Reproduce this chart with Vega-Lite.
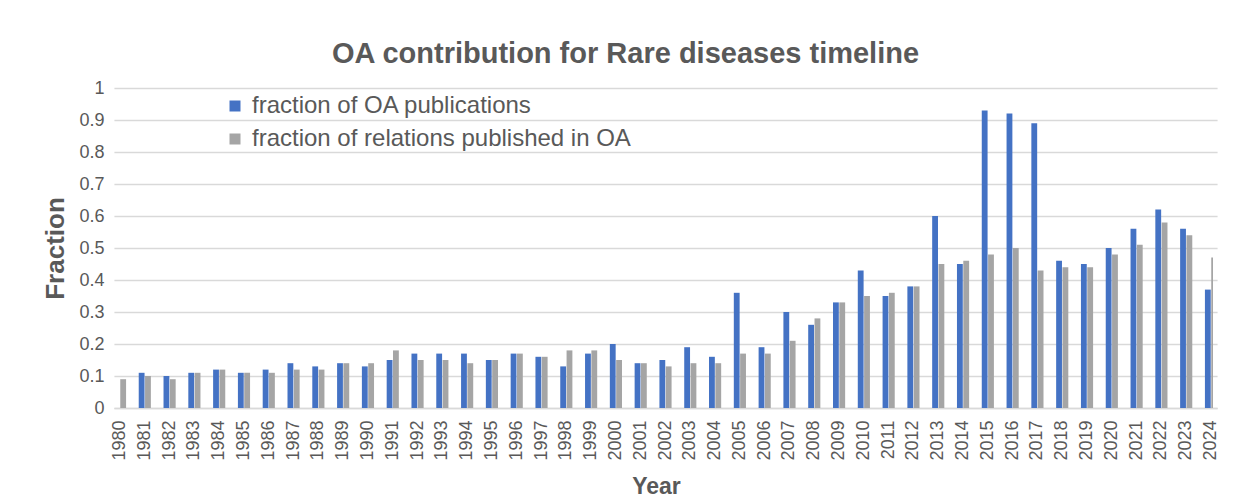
{
  "$schema": "https://vega.github.io/schema/vega-lite/v6.json",
  "width": 1093,
  "height": 320,
  "autosize": {"type": "none"},
  "padding": {"left": 120, "top": 88, "right": 25, "bottom": 91},
  "background": "white",
  "config": {
    "font": "Liberation Sans",
    "view": {"stroke": null},
    "axis": {"labelColor": "#595959", "titleColor": "#595959", "labelFont": "Liberation Sans", "titleFont": "Liberation Sans"}
  },
  "title": {
    "text": "OA contribution for Rare diseases timeline",
    "fontSize": 29,
    "fontWeight": "bold",
    "color": "#595959",
    "anchor": "middle",
    "dx": -41,
    "offset": 10
  },
  "data": {
    "values": [
      {"year": "1980", "series": "fraction of OA publications", "value": 0.10},
      {"year": "1980", "series": "fraction of relations published in OA", "value": 0.09},
      {"year": "1981", "series": "fraction of OA publications", "value": 0.11},
      {"year": "1981", "series": "fraction of relations published in OA", "value": 0.10},
      {"year": "1982", "series": "fraction of OA publications", "value": 0.10},
      {"year": "1982", "series": "fraction of relations published in OA", "value": 0.09},
      {"year": "1983", "series": "fraction of OA publications", "value": 0.11},
      {"year": "1983", "series": "fraction of relations published in OA", "value": 0.11},
      {"year": "1984", "series": "fraction of OA publications", "value": 0.12},
      {"year": "1984", "series": "fraction of relations published in OA", "value": 0.12},
      {"year": "1985", "series": "fraction of OA publications", "value": 0.11},
      {"year": "1985", "series": "fraction of relations published in OA", "value": 0.11},
      {"year": "1986", "series": "fraction of OA publications", "value": 0.12},
      {"year": "1986", "series": "fraction of relations published in OA", "value": 0.11},
      {"year": "1987", "series": "fraction of OA publications", "value": 0.14},
      {"year": "1987", "series": "fraction of relations published in OA", "value": 0.12},
      {"year": "1988", "series": "fraction of OA publications", "value": 0.13},
      {"year": "1988", "series": "fraction of relations published in OA", "value": 0.12},
      {"year": "1989", "series": "fraction of OA publications", "value": 0.14},
      {"year": "1989", "series": "fraction of relations published in OA", "value": 0.14},
      {"year": "1990", "series": "fraction of OA publications", "value": 0.13},
      {"year": "1990", "series": "fraction of relations published in OA", "value": 0.14},
      {"year": "1991", "series": "fraction of OA publications", "value": 0.15},
      {"year": "1991", "series": "fraction of relations published in OA", "value": 0.18},
      {"year": "1992", "series": "fraction of OA publications", "value": 0.17},
      {"year": "1992", "series": "fraction of relations published in OA", "value": 0.15},
      {"year": "1993", "series": "fraction of OA publications", "value": 0.17},
      {"year": "1993", "series": "fraction of relations published in OA", "value": 0.15},
      {"year": "1994", "series": "fraction of OA publications", "value": 0.17},
      {"year": "1994", "series": "fraction of relations published in OA", "value": 0.14},
      {"year": "1995", "series": "fraction of OA publications", "value": 0.15},
      {"year": "1995", "series": "fraction of relations published in OA", "value": 0.15},
      {"year": "1996", "series": "fraction of OA publications", "value": 0.17},
      {"year": "1996", "series": "fraction of relations published in OA", "value": 0.17},
      {"year": "1997", "series": "fraction of OA publications", "value": 0.16},
      {"year": "1997", "series": "fraction of relations published in OA", "value": 0.16},
      {"year": "1998", "series": "fraction of OA publications", "value": 0.13},
      {"year": "1998", "series": "fraction of relations published in OA", "value": 0.18},
      {"year": "1999", "series": "fraction of OA publications", "value": 0.17},
      {"year": "1999", "series": "fraction of relations published in OA", "value": 0.18},
      {"year": "2000", "series": "fraction of OA publications", "value": 0.20},
      {"year": "2000", "series": "fraction of relations published in OA", "value": 0.15},
      {"year": "2001", "series": "fraction of OA publications", "value": 0.14},
      {"year": "2001", "series": "fraction of relations published in OA", "value": 0.14},
      {"year": "2002", "series": "fraction of OA publications", "value": 0.15},
      {"year": "2002", "series": "fraction of relations published in OA", "value": 0.13},
      {"year": "2003", "series": "fraction of OA publications", "value": 0.19},
      {"year": "2003", "series": "fraction of relations published in OA", "value": 0.14},
      {"year": "2004", "series": "fraction of OA publications", "value": 0.16},
      {"year": "2004", "series": "fraction of relations published in OA", "value": 0.14},
      {"year": "2005", "series": "fraction of OA publications", "value": 0.36},
      {"year": "2005", "series": "fraction of relations published in OA", "value": 0.17},
      {"year": "2006", "series": "fraction of OA publications", "value": 0.19},
      {"year": "2006", "series": "fraction of relations published in OA", "value": 0.17},
      {"year": "2007", "series": "fraction of OA publications", "value": 0.30},
      {"year": "2007", "series": "fraction of relations published in OA", "value": 0.21},
      {"year": "2008", "series": "fraction of OA publications", "value": 0.26},
      {"year": "2008", "series": "fraction of relations published in OA", "value": 0.28},
      {"year": "2009", "series": "fraction of OA publications", "value": 0.33},
      {"year": "2009", "series": "fraction of relations published in OA", "value": 0.33},
      {"year": "2010", "series": "fraction of OA publications", "value": 0.43},
      {"year": "2010", "series": "fraction of relations published in OA", "value": 0.35},
      {"year": "2011", "series": "fraction of OA publications", "value": 0.35},
      {"year": "2011", "series": "fraction of relations published in OA", "value": 0.36},
      {"year": "2012", "series": "fraction of OA publications", "value": 0.38},
      {"year": "2012", "series": "fraction of relations published in OA", "value": 0.38},
      {"year": "2013", "series": "fraction of OA publications", "value": 0.60},
      {"year": "2013", "series": "fraction of relations published in OA", "value": 0.45},
      {"year": "2014", "series": "fraction of OA publications", "value": 0.45},
      {"year": "2014", "series": "fraction of relations published in OA", "value": 0.46},
      {"year": "2015", "series": "fraction of OA publications", "value": 0.93},
      {"year": "2015", "series": "fraction of relations published in OA", "value": 0.48},
      {"year": "2016", "series": "fraction of OA publications", "value": 0.92},
      {"year": "2016", "series": "fraction of relations published in OA", "value": 0.50},
      {"year": "2017", "series": "fraction of OA publications", "value": 0.89},
      {"year": "2017", "series": "fraction of relations published in OA", "value": 0.43},
      {"year": "2018", "series": "fraction of OA publications", "value": 0.46},
      {"year": "2018", "series": "fraction of relations published in OA", "value": 0.44},
      {"year": "2019", "series": "fraction of OA publications", "value": 0.45},
      {"year": "2019", "series": "fraction of relations published in OA", "value": 0.44},
      {"year": "2020", "series": "fraction of OA publications", "value": 0.50},
      {"year": "2020", "series": "fraction of relations published in OA", "value": 0.48},
      {"year": "2021", "series": "fraction of OA publications", "value": 0.56},
      {"year": "2021", "series": "fraction of relations published in OA", "value": 0.51},
      {"year": "2022", "series": "fraction of OA publications", "value": 0.62},
      {"year": "2022", "series": "fraction of relations published in OA", "value": 0.58},
      {"year": "2023", "series": "fraction of OA publications", "value": 0.56},
      {"year": "2023", "series": "fraction of relations published in OA", "value": 0.54},
      {"year": "2024", "series": "fraction of OA publications", "value": 0.37},
      {"year": "2024", "series": "fraction of relations published in OA", "value": 0.47}
    ]
  },
  "mark": {"type": "bar", "clip": true},
  "encoding": {
    "x": {
      "field": "year",
      "type": "ordinal",
      "title": "Year",
      "scale": {"range": [-6.07, 1097.07], "paddingInner": 0.51, "paddingOuter": 0, "round": false},
      "axis": {
        "labelAngle": -90,
        "labelAlign": "right",
        "labelBaseline": "middle",
        "labelFontSize": 18,
        "labelPadding": 12,
        "ticks": false,
        "domainColor": "#d9d9d9",
        "domainWidth": 1.5,
        "titleFontSize": 23,
        "titleFontWeight": "bold",
        "titlePadding": 15,
        "titleX": 536,
        "labelOverlap": false
      }
    },
    "xOffset": {
      "field": "series",
      "type": "nominal",
      "sort": ["fraction of OA publications", "fraction of relations published in OA"],
      "scale": {"paddingInner": 0.08}
    },
    "y": {
      "field": "value",
      "type": "quantitative",
      "title": "Fraction",
      "scale": {"domain": [0, 1], "nice": false},
      "axis": {
        "values": [0, 0.1, 0.2, 0.3, 0.4, 0.5, 0.6, 0.7, 0.8, 0.9, 1],
        "format": "~g",
        "labelFontSize": 18,
        "labelPadding": 16,
        "ticks": false,
        "domain": false,
        "gridColor": "#d9d9d9",
        "gridWidth": 1.5,
        "titleFontSize": 26,
        "titleFontWeight": "bold",
        "titlePadding": 10
      }
    },
    "color": {
      "field": "series",
      "type": "nominal",
      "sort": ["fraction of OA publications", "fraction of relations published in OA"],
      "scale": {
        "domain": ["fraction of OA publications", "fraction of relations published in OA"],
        "range": ["#4472C4", "#A5A5A5"]
      },
      "legend": {
        "title": null,
        "orient": "none",
        "legendX": 103,
        "legendY": 6,
        "symbolType": "square",
        "symbolSize": 121,
        "symbolStrokeWidth": 0,
        "labelFontSize": 24,
        "labelColor": "#595959",
        "labelFont": "Liberation Sans",
        "labelOffset": 5,
        "labelLimit": 600,
        "rowPadding": 9
      }
    }
  }
}
